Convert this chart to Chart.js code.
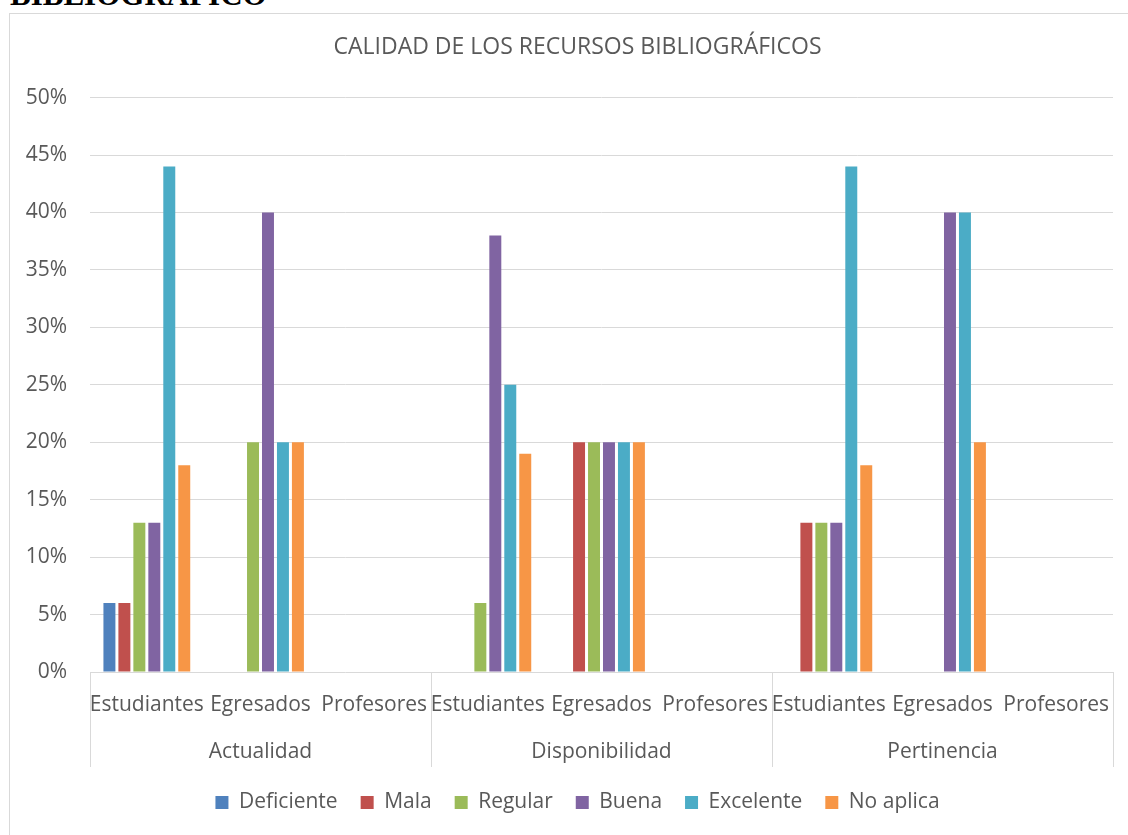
<!DOCTYPE html>
<html lang="es">
<head>
<meta charset="utf-8">
<title>Calidad de los recursos bibliográficos</title>
<script src="https://cdn.jsdelivr.net/npm/chart.js@4"></script>
<style>
  html, body { margin: 0; padding: 0; background: #fff; overflow: hidden; width: 1128px; height: 835px; }
  .heading {
    position: absolute; left: 10px; top: -21px; margin: 0;
    font: bold 31px/1 "Liberation Serif", "Times New Roman", serif; color: #000;
  }
  .frame {
    position: absolute; left: 9px; top: 13px; width: 1160px; height: 840px;
    border: 1px solid #d9d9d9; background: #fff;
  }
</style>
</head>
<body>
<p class="heading">BIBLIOGRÁFICO</p>
<div class="frame"><canvas id="chart" width="1140" height="821"></canvas></div>
<script>
const groups = ['Actualidad', 'Disponibilidad', 'Pertinencia'];
const subgroups = ['Estudiantes', 'Egresados', 'Profesores'];
const yTicks = [0, 5, 10, 15, 20, 25, 30, 35, 40, 45, 50];

// one value per subgroup, in group order
const deficiente = [6, 0, 0, 0, 0, 0, 0, 0, 0];
const mala = [6, 0, 0, 0, 20, 0, 13, 0, 0];
const regular = [13, 20, 0, 6, 20, 0, 13, 0, 0];
const buena = [13, 40, 0, 38, 20, 0, 13, 40, 0];
const excelente = [44, 20, 0, 25, 20, 0, 44, 40, 0];
const noAplica = [18, 20, 0, 19, 20, 0, 18, 20, 0];

const categories = [];
groups.forEach(() => subgroups.forEach(s => categories.push(s)));

const textColor = '#595959';
const lineColor = '#d9d9d9';
const family = '"Open Sans", sans-serif';
const font = { family: family, size: 21 };

// vertical separators between the groups, through both label rows
const groupLines = {
  id: 'groupLines',
  afterDraw(chart) {
    const x = chart.scales.x;
    const x2 = chart.scales.x2;
    const ctx = chart.ctx;
    const step = (x.right - x.left) / categories.length;
    ctx.save();
    ctx.strokeStyle = lineColor;
    ctx.lineWidth = 1;
    for (let g = 0; g <= groups.length; g++) {
      const px = Math.round(x.left + g * subgroups.length * step) + 0.5;
      ctx.beginPath();
      ctx.moveTo(px, x.top);
      ctx.lineTo(px, x2.bottom - 2);
      ctx.stroke();
    }
    ctx.restore();
  }
};

function series(label, data, color) {
  return {
    label: label,
    data: data,
    backgroundColor: color,
    borderWidth: 0,
    categoryPercentage: 0.79,
    barPercentage: 0.8
  };
}

new Chart(document.getElementById('chart'), {
  type: 'bar',
  data: {
    labels: categories,
    datasets: [
      series('Deficiente', deficiente, '#4F81BD'),
      series('Mala', mala, '#C0504D'),
      series('Regular', regular, '#9BBB59'),
      series('Buena', buena, '#8064A2'),
      series('Excelente', excelente, '#4BACC6'),
      series('No aplica', noAplica, '#F79646')
    ]
  },
  options: {
    responsive: false,
    animation: false,
    layout: { padding: { left: 0, right: 5, top: 0, bottom: 12 } },
    plugins: {
      title: {
        display: true,
        text: 'CALIDAD DE LOS RECURSOS BIBLIOGRÁFICOS',
        color: textColor,
        font: { family: family, size: 23, weight: 'normal' },
        padding: { top: 20, bottom: 36 }
      },
      legend: {
        position: 'bottom',
        labels: {
          color: textColor,
          font: font,
          boxWidth: 13,
          boxHeight: 13,
          padding: 23
        }
      },
      tooltip: { enabled: false }
    },
    scales: {
      y: {
        min: 0,
        max: 50,
        afterBuildTicks: scale => { scale.ticks = yTicks.map(v => ({ value: v })); },
        ticks: { color: textColor, font: font, padding: 23, callback: v => v + '%' },
        grid: { color: lineColor, drawTicks: false, lineWidth: 1 },
        border: { display: false },
        afterFit: scale => { scale.width = 80; }
      },
      // empty strip on the right of the plot
      yRight: {
        position: 'right',
        ticks: { display: false },
        grid: { display: false, drawTicks: false },
        border: { display: false },
        afterFit: scale => { scale.width = 32; }
      },
      x: {
        ticks: { color: textColor, font: font, padding: 20, maxRotation: 0, minRotation: 0, autoSkip: false },
        grid: { display: false, drawTicks: false },
        border: { display: false },
        afterFit: scale => { scale.height = 47; }
      },
      x2: {
        type: 'category',
        position: 'bottom',
        labels: groups,
        ticks: { color: textColor, font: font, padding: 20, maxRotation: 0, autoSkip: false },
        grid: { display: false, drawTicks: false },
        border: { display: false },
        afterFit: scale => { scale.height = 50; }
      }
    }
  },
  plugins: [groupLines]
});
</script>
</body>
</html>
